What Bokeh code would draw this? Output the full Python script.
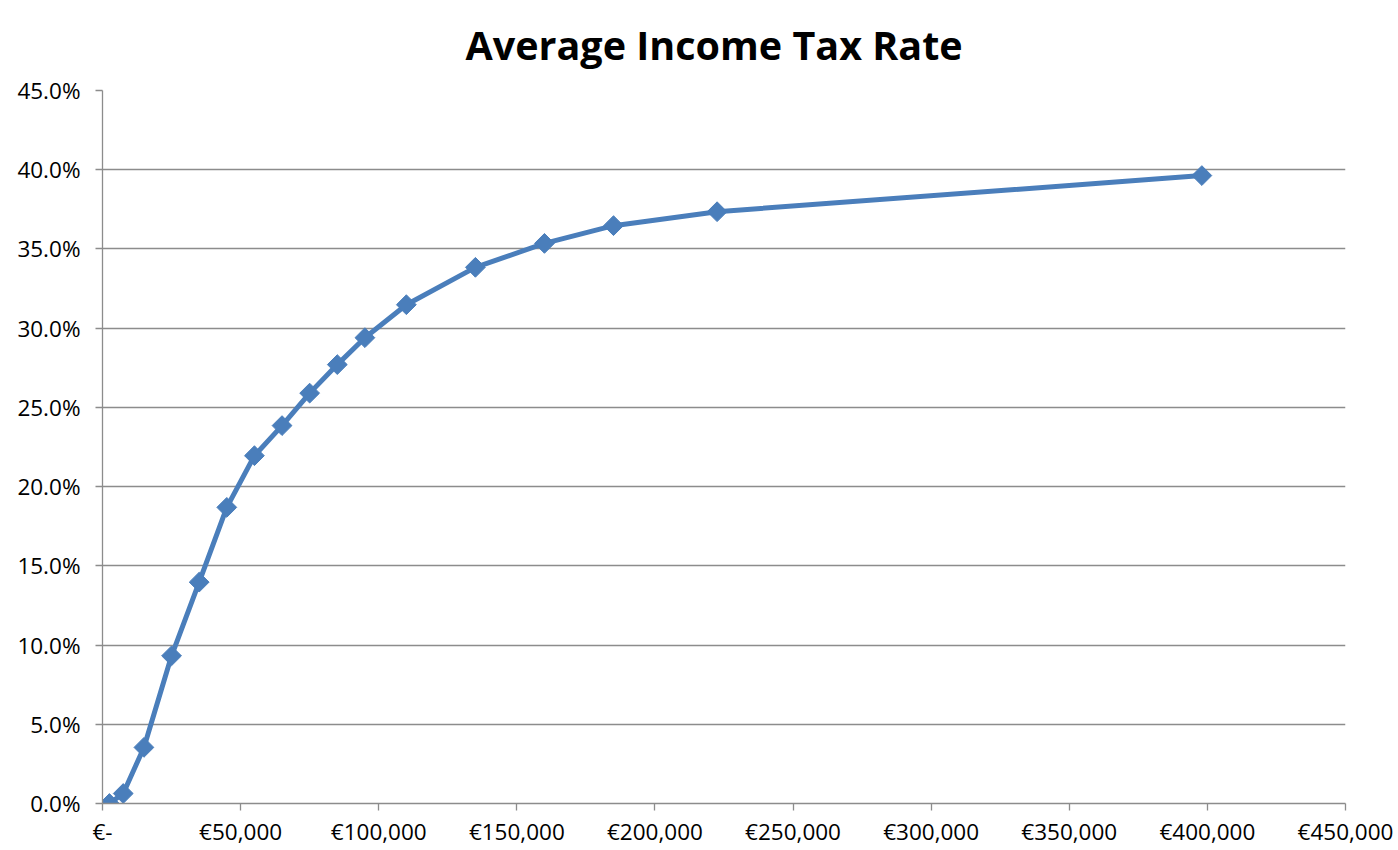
import numpy as np
from bokeh.plotting import figure
from bokeh.models import Range1d, NumeralTickFormatter, CustomJSTickFormatter, FixedTicker
from bokeh.embed import file_html
from bokeh.resources import INLINE

title_text = "Average Income Tax Rate"
income = [2500, 7500, 15000, 25000, 35000, 45000, 55000, 65000, 75000, 85000,
          95000, 110000, 135000, 160000, 185000, 222500, 398000]
avg_rate = [0.0, 0.0063, 0.0354, 0.0932, 0.1397, 0.1869, 0.2195, 0.2385, 0.2590,
            0.2770, 0.2940, 0.3148, 0.3384, 0.3535, 0.3647, 0.3735, 0.3963]
x_ticks = [0, 50000, 100000, 150000, 200000, 250000, 300000, 350000, 400000, 450000]
y_ticks = [0.0, 0.05, 0.10, 0.15, 0.20, 0.25, 0.30, 0.35, 0.40, 0.45]

FONT = "Open Sans"
GRID = "#8C8C8C"
BLUE = "#4A7EBB"

p = figure(width=1398, height=850, output_backend="svg", toolbar_location=None,
           x_range=Range1d(0, 450000), y_range=Range1d(0, 0.45),
           min_border_left=102, min_border_right=53, min_border_top=90, min_border_bottom=47,
           title=title_text)
p.outline_line_color = None
p.background_fill_color = "white"
p.border_fill_color = "white"

p.title.text_font = FONT
p.title.text_font_size = "39.5px"
p.title.text_font_style = "bold"
p.title.text_color = "black"
p.title.align = "left"
p.title.offset = 363
p.title.standoff = 34
p.title.vertical_align = "top"

p.xgrid.grid_line_color = None
p.ygrid.grid_line_color = GRID
p.ygrid.grid_line_width = 1.3
p.ygrid.ticker = FixedTicker(ticks=y_ticks)

p.xaxis.ticker = FixedTicker(ticks=x_ticks)
p.yaxis.ticker = FixedTicker(ticks=y_ticks)
p.yaxis.formatter = NumeralTickFormatter(format="0.0%")
p.xaxis.formatter = CustomJSTickFormatter(code="""
    if (tick == 0) { return "\u20ac-"; }
    return "\u20ac" + Math.round(tick).toLocaleString("en-US");
""")

for ax in (p.xaxis, p.yaxis):
    ax.axis_line_color = GRID
    ax.axis_line_width = 1.3
    ax.major_tick_line_color = GRID
    ax.major_tick_line_width = 1.3
    ax.major_tick_out = 7
    ax.major_tick_in = 0
    ax.minor_tick_line_color = None
    ax.major_label_text_font = FONT
    ax.major_label_text_font_size = "22.5px"
    ax.major_label_text_color = "black"
p.xaxis.major_label_standoff = 5
p.yaxis.major_label_standoff = 15

p.line(income, avg_rate, line_color=BLUE, line_width=5)
p.scatter(income, avg_rate, marker="square", angle=np.pi / 4, size=14,
          fill_color=BLUE, line_color=BLUE)

open("out.html", "w").write(file_html(p, INLINE))
